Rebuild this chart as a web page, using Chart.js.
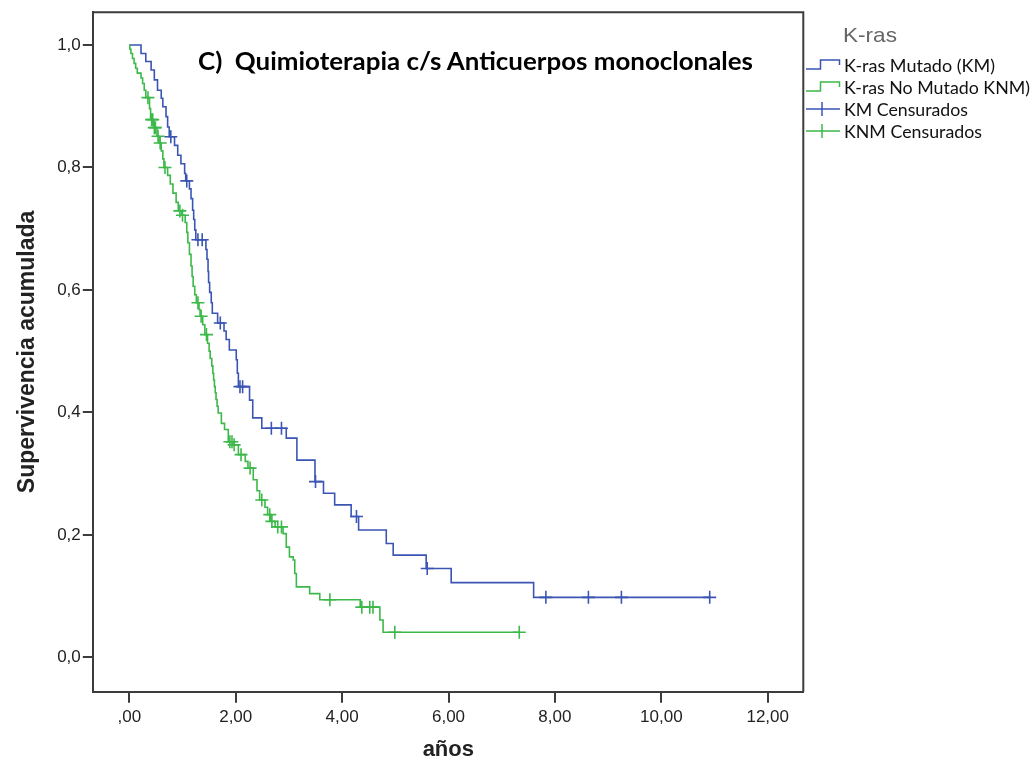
<!DOCTYPE html>
<html>
<head>
<meta charset="utf-8">
<script src="https://cdn.jsdelivr.net/npm/chart.js@4"></script>
<style>
  html, body { margin:0; padding:0; background:#fff; }
  #wrap { position:relative; width:1036px; height:764px; overflow:hidden; }
  #c { position:absolute; left:0; top:0; }
  .txt { position:absolute; white-space:nowrap; transform-origin:0 50%; }
  #title { left:198px; top:46px; height:28px; line-height:28px; font:bold 24px Lato, "Open Sans", sans-serif; color:#000; }
  #legTitle { left:843px; top:23px; height:24px; line-height:24px; font:21px "Liberation Sans", Arial, sans-serif; color:#666; }
  .leg { left:844px; height:20px; line-height:20px; font:17px Lato, "Open Sans", sans-serif; color:#111; }
  svg.icon { position:absolute; left:804px; width:40px; height:20px; overflow:visible; }
</style>
</head>
<body>
<div id="wrap">
  <canvas id="c" width="1036" height="764"></canvas>
  <div id="title" class="txt" data-w="555">C)&nbsp;&nbsp;Quimioterapia c/s Anticuerpos monoclonales</div>
  <div id="legTitle" class="txt" data-w="54">K-ras</div>
  <svg class="icon" style="top:55px" viewBox="0 0 40 20"><polyline points="2,14 16.5,14 16.5,5 35.5,5 35.5,10" fill="none" stroke="#3a55b4" stroke-width="1.5"/></svg>
  <div class="txt leg" style="top:55px" data-w="151">K-ras Mutado (KM)</div>
  <svg class="icon" style="top:77px" viewBox="0 0 40 20"><polyline points="2,14 16.5,14 16.5,5 35.5,5 35.5,10" fill="none" stroke="#3cb94a" stroke-width="1.5"/></svg>
  <div class="txt leg" style="top:77px" data-w="186">K-ras No Mutado KNM)</div>
  <svg class="icon" style="top:99px" viewBox="0 0 40 20"><line x1="2" y1="10" x2="36" y2="10" stroke="#3a55b4" stroke-width="1.5"/><line x1="18" y1="3" x2="18" y2="17" stroke="#3a55b4" stroke-width="1.5"/></svg>
  <div class="txt leg" style="top:99px" data-w="124">KM Censurados</div>
  <svg class="icon" style="top:121px" viewBox="0 0 40 20"><line x1="2" y1="10" x2="36" y2="10" stroke="#3cb94a" stroke-width="1.5"/><line x1="18" y1="3" x2="18" y2="17" stroke="#3cb94a" stroke-width="1.5"/></svg>
  <div class="txt leg" style="top:121px" data-w="138">KNM Censurados</div>
</div>
<script>
// ---- Data ----
const kmTimes = [0, 0.22, 0.31, 0.41, 0.47, 0.53, 0.60, 0.63, 0.69, 0.72,
  0.75, 0.85, 0.91, 0.97, 1.04, 1.06, 1.13, 1.16, 1.19, 1.21,
  1.23, 1.25, 1.44, 1.46, 1.48, 1.49, 1.51, 1.54, 1.56, 1.66,
  1.78, 1.82, 1.88, 2.01, 2.03, 2.05, 2.26, 2.32, 2.49, 2.95,
  3.15, 3.49, 3.65, 3.86, 4.17, 4.31, 4.83, 4.96, 5.58, 6.05,
  7.60, 10.91];
const kmSurv = [1.0, 0.986, 0.973, 0.959, 0.943, 0.926, 0.913, 0.899, 0.883, 0.866,
  0.850, 0.836, 0.820, 0.806, 0.790, 0.778, 0.765, 0.749, 0.730, 0.715,
  0.698, 0.682, 0.666, 0.650, 0.630, 0.612, 0.596, 0.579, 0.562, 0.546,
  0.533, 0.519, 0.502, 0.486, 0.464, 0.442, 0.420, 0.391, 0.374, 0.358,
  0.322, 0.287, 0.268, 0.249, 0.230, 0.208, 0.186, 0.167, 0.145, 0.122,
  0.098, 0.098];
const kmCensTimes = [0.78, 1.08, 1.29, 1.37, 1.71, 2.08, 2.13, 2.67, 2.86, 3.50, 4.27, 5.60, 7.83, 8.63, 9.25, 10.91];
const kmCensSurv  = [0.850, 0.778, 0.682, 0.682, 0.546, 0.442, 0.442, 0.374, 0.374, 0.287, 0.230, 0.145, 0.098, 0.098, 0.098, 0.098];

const knmTimes = [0, 0.01, 0.03, 0.06, 0.09, 0.12, 0.15, 0.22, 0.25, 0.28,
  0.31, 0.38, 0.40, 0.46, 0.52, 0.56, 0.60, 0.63, 0.65, 0.72,
  0.77, 0.82, 0.88, 0.92, 0.98, 1.05, 1.08, 1.10, 1.13, 1.16,
  1.18, 1.20, 1.23, 1.26, 1.31, 1.33, 1.38, 1.42, 1.47, 1.50,
  1.52, 1.55, 1.57, 1.585, 1.60, 1.615, 1.63, 1.65, 1.67, 1.73,
  1.79, 1.86, 1.95, 2.05, 2.18, 2.23, 2.33, 2.40, 2.45, 2.55,
  2.60, 2.66, 2.74, 2.89, 2.95, 3.01, 3.08, 3.11, 3.14, 3.39,
  3.58, 4.34, 4.71, 4.77, 7.33];
const knmSurv = [1.0, 0.993, 0.986, 0.978, 0.970, 0.962, 0.954, 0.946, 0.937, 0.926,
  0.914, 0.896, 0.878, 0.865, 0.851, 0.840, 0.827, 0.814, 0.800, 0.787,
  0.773, 0.758, 0.743, 0.729, 0.722, 0.710, 0.694, 0.677, 0.658, 0.639,
  0.622, 0.606, 0.592, 0.579, 0.568, 0.557, 0.543, 0.527, 0.513, 0.500,
  0.488, 0.476, 0.464, 0.453, 0.442, 0.432, 0.421, 0.410, 0.399, 0.382,
  0.372, 0.352, 0.347, 0.331, 0.320, 0.309, 0.290, 0.272, 0.257, 0.245,
  0.233, 0.222, 0.213, 0.202, 0.180, 0.164, 0.159, 0.137, 0.115, 0.104,
  0.094, 0.082, 0.061, 0.041, 0.041];
const knmCensTimes = [0.35, 0.42, 0.44, 0.47, 0.49, 0.54, 0.58, 0.67, 0.95, 1.00, 1.29, 1.35, 1.45, 1.89, 1.93, 1.97, 2.10, 2.27, 2.49, 2.64, 2.68, 2.79, 2.86, 3.77, 4.37, 4.52, 4.58, 4.99, 7.33];
const knmCensSurv  = [0.914, 0.878, 0.878, 0.865, 0.865, 0.851, 0.840, 0.800, 0.729, 0.722, 0.579, 0.557, 0.527, 0.352, 0.352, 0.347, 0.331, 0.309, 0.257, 0.233, 0.222, 0.213, 0.213, 0.094, 0.082, 0.082, 0.082, 0.041, 0.041];

const xTickValues = [0, 2, 4, 6, 8, 10, 12];
const xTickLabels = [',00', '2,00', '4,00', '6,00', '8,00', '10,00', '12,00'];
const yTickValues = [0, 0.2, 0.4, 0.6, 0.8, 1.0];
const yTickLabels = ['0,0', '0,2', '0,4', '0,6', '0,8', '1,0'];

const seriesNames = ['K-ras Mutado (KM)', 'K-ras No Mutado KNM)', 'KM Censurados', 'KNM Censurados'];
const xTitle = 'años';
const yTitle = 'Supervivencia acumulada';

// ---- Styling ----
const BLUE = '#3a55b4', GREEN = '#3cb94a', AXIS = '#3c3c3c';
const pts = (xs, ys) => xs.map((x, i) => ({ x: x, y: ys[i] }));

const framePlugin = {
  id: 'frame',
  afterDraw(chart) {
    const { ctx, chartArea: a } = chart;
    ctx.save();
    ctx.strokeStyle = AXIS;
    ctx.lineWidth = 2;
    ctx.beginPath();
    ctx.moveTo(a.left, a.top);
    ctx.lineTo(a.right, a.top);
    ctx.lineTo(a.right, a.bottom);
    ctx.stroke();
    ctx.restore();
  }
};

new Chart(document.getElementById('c'), {
  type: 'line',
  data: {
    datasets: [
      { label: seriesNames[0], data: pts(kmTimes, kmSurv), stepped: true, borderColor: BLUE, borderWidth: 1.6, pointRadius: 0, fill: false, order: 2 },
      { label: seriesNames[1], data: pts(knmTimes, knmSurv), stepped: true, borderColor: GREEN, borderWidth: 1.6, pointRadius: 0, fill: false, order: 1 },
      { type: 'scatter', label: seriesNames[2], data: pts(kmCensTimes, kmCensSurv), showLine: false, pointStyle: 'cross', pointRadius: 6.5, borderColor: BLUE, borderWidth: 1.6, backgroundColor: BLUE, order: 2 },
      { type: 'scatter', label: seriesNames[3], data: pts(knmCensTimes, knmCensSurv), showLine: false, pointStyle: 'cross', pointRadius: 6.5, borderColor: GREEN, borderWidth: 1.6, backgroundColor: GREEN, order: 1 }
    ]
  },
  options: {
    responsive: false,
    animation: false,
    devicePixelRatio: 1,
    layout: { padding: { left: 0, top: 11.7, right: 232.7, bottom: 0 } },
    plugins: { legend: { display: false }, tooltip: { enabled: false }, title: { display: false } },
    scales: {
      x: {
        type: 'linear', min: -0.677, max: 12.669,
        afterBuildTicks: s => { s.ticks = xTickValues.map(v => ({ value: v })); },
        afterFit: s => { s.height = 764 - 691.7; },
        ticks: {
          autoSkip: false, maxRotation: 0, padding: 4, color: '#222',
          font: { family: '"Liberation Sans", Arial, sans-serif', size: 17 },
          callback: (v) => { const i = xTickValues.indexOf(v); return i >= 0 ? xTickLabels[i] : ''; }
        },
        grid: { drawOnChartArea: false, drawTicks: true, tickLength: 11, color: AXIS, lineWidth: 2 },
        border: { display: true, color: AXIS, width: 2 },
        title: { display: true, text: xTitle, color: '#222', padding: { top: 0, bottom: 1 },
          font: { family: '"Liberation Sans", Arial, sans-serif', size: 22, weight: 'bold' } }
      },
      y: {
        type: 'linear', min: -0.0561, max: 1.0535,
        afterBuildTicks: s => { s.ticks = yTickValues.map(v => ({ value: v })); },
        afterFit: s => { s.width = 93.3; },
        ticks: {
          autoSkip: false, padding: 2, color: '#222',
          font: { family: '"Liberation Sans", Arial, sans-serif', size: 17 },
          callback: (v) => { const i = yTickValues.findIndex(t => Math.abs(t - v) < 1e-9); return i >= 0 ? yTickLabels[i] : ''; }
        },
        grid: { drawOnChartArea: false, drawTicks: true, tickLength: 10.5, color: AXIS, lineWidth: 2 },
        border: { display: true, color: AXIS, width: 2 },
        title: { display: true, text: yTitle, color: '#222', padding: { top: 14, bottom: 0 },
          font: { family: '"Liberation Sans", Arial, sans-serif', size: 23, weight: 'bold' } }
      }
    }
  },
  plugins: [framePlugin]
});

// fit overlay text widths to the reference
document.querySelectorAll('.txt[data-w]').forEach(el => {
  const target = parseFloat(el.dataset.w);
  const w = el.getBoundingClientRect().width;
  if (w > 0) el.style.transform = 'scaleX(' + (target / w).toFixed(4) + ')';
});
</script>
</body>
</html>
